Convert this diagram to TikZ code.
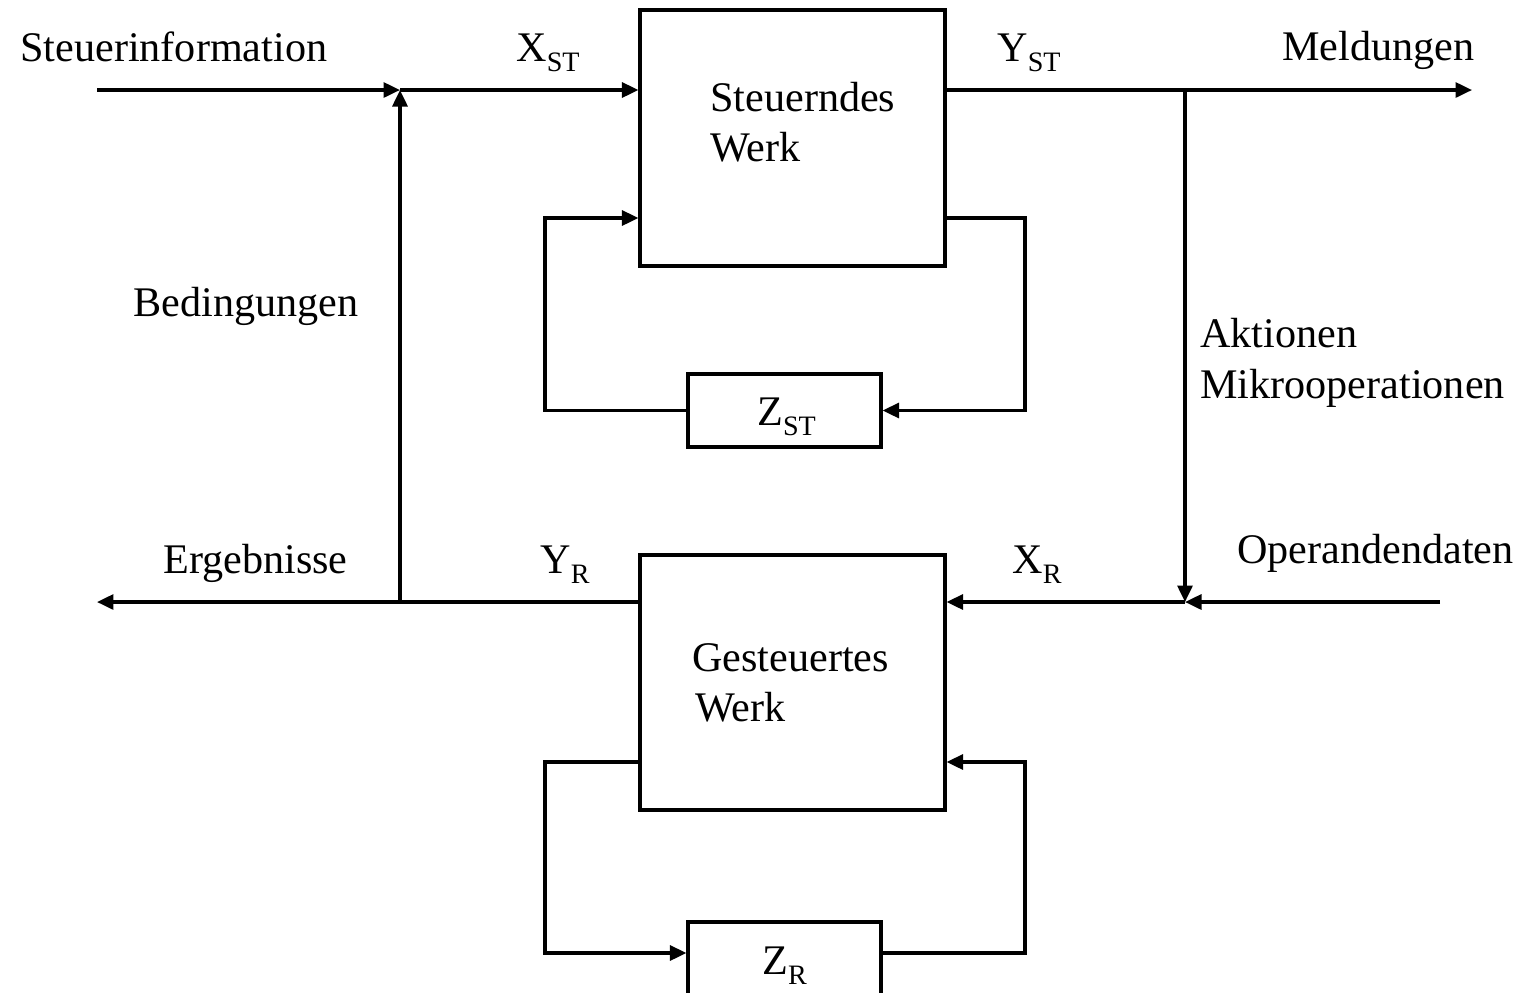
\documentclass[tikz,border=0pt]{standalone}
\usepackage{fontspec}
\setmainfont{Liberation Serif}
\usetikzlibrary{arrows.meta}
\newcommand\subtxt[1]{\raisebox{-0.26em}{\fontsize{16}{16}\selectfont #1}}
\tikzset{
  wire/.style={line width=1.8pt},
  arr/.style={wire, -{Triangle[length=0.33cm,width=0.3cm]}},
  blockbox/.style={draw, line width=1.8pt, rectangle, inner sep=0pt},
  lbl/.style={anchor=base west, inner sep=0pt, font=\fontsize{24}{28}\selectfont},
}
\begin{document}
\begin{tikzpicture}[x=0.02cm, y=-0.02cm]
\useasboundingbox (0,0) rectangle (1522,992);
\clip (0,0) rectangle (1522,992);

% blocks
\node[blockbox, minimum width=6.1cm, minimum height=5.12cm] (st) at (792.5,138) {};
\node[blockbox, minimum width=3.86cm, minimum height=1.46cm] (zst) at (784.5,410.5) {};
\node[blockbox, minimum width=6.1cm, minimum height=5.1cm] (gw) at (792.5,682.5) {};
\node[blockbox, minimum width=3.86cm, minimum height=1.46cm] (zr) at (784.5,958.5) {};

% junctions and open ends
\coordinate (sin) at (97,90);
\coordinate (j1) at (400,90);
\coordinate (j2) at (1185,90);
\coordinate (mout) at (1472,90);
\coordinate (jb) at (400,602);
\coordinate (j3) at (1185,602);
\coordinate (opin) at (1440,602);
\coordinate (eout) at (97,602);
\coordinate (a1) at (545,218);
\coordinate (a2) at (1025,218);
\coordinate (b1) at (545,762);
\coordinate (b2) at (1025,762);
\coordinate (b3) at (700,953);

% control path
\draw[arr] (sin) -- (j1);
\draw[arr] (j1) -- (st.west |- j1);
\draw[wire] (st.east |- j2) -- (j2);
\draw[arr] (j2) -- (mout);
\draw[arr] (j2) -- (j3);
\draw[arr] (opin) -- (j3);
\draw[arr] (j3) -- (gw.east |- j3);
\draw[arr] (gw.west |- jb) -- (eout);
\draw[arr] (jb) -- (j1);

% state feedback of the controlling unit
\draw[arr] (st.east |- a2) -- (a2) |- (zst.east);
\draw[arr] (zst.west) -| (a1) -- (st.west |- a1);

% state feedback of the controlled unit
\draw[arr] (gw.west |- b1) -- (b1) |- (zr.west |- b3);
\draw[arr] (zr.east |- b3) -| (b2) -- (gw.east |- b2);

% labels
\node[lbl] (tsin) at (20,61) {Steuerinformation};
\node[lbl] (txst) at (516,61) {X\subtxt{ST}};
\node[lbl] (tyst) at (997,61) {Y\subtxt{ST}};
\node[lbl] (tmel) at (1282,60) {Meldungen};
\node[lbl] (tst1) at (710,111) {Steuerndes};
\node[lbl] (tst2) at (710,161) {Werk};
\node[lbl] (tbed) at (133,316) {Bedingungen};
\node[lbl] (takt) at (1200,347) {Aktionen};
\node[lbl] (tmik) at (1200,398) {Mikrooperationen};
\node[lbl] (tzst) at (757,425) {Z\subtxt{ST}};
\node[lbl] (terg) at (163,573) {Ergebnisse};
\node[lbl] (tyr) at (540,573) {Y\subtxt{R}};
\node[lbl] (txr) at (1012,573) {X\subtxt{R}};
\node[lbl] (top) at (1237,563) {Operandendaten};
\node[lbl] (tgw1) at (692,671) {Gesteuertes};
\node[lbl] (tgw2) at (695,721) {Werk};
\node[lbl] (tzr) at (762,974) {Z\subtxt{R}};
\end{tikzpicture}
\end{document}
